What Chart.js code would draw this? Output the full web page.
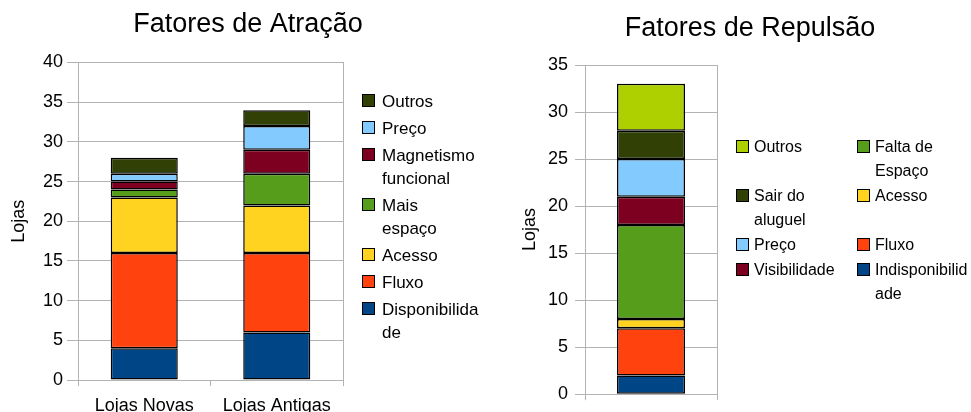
<!DOCTYPE html>
<html><head><meta charset="utf-8">
<script src="https://cdn.jsdelivr.net/npm/chart.js@4"></script>
<style>
html,body{margin:0;padding:0;width:971px;height:412px;overflow:hidden;background:#fff;font-family:"Liberation Sans",Arial,sans-serif;}
#c1{position:absolute;left:0;top:0;}
#c2{position:absolute;left:519px;top:0;}
.legend{position:absolute;font-size:17px;color:#000;line-height:23px;z-index:2;}
#lg1{left:362px;top:89.5px;}
#lg2{left:736px;top:135px;font-size:16px;display:grid;grid-template-columns:121px 121px;grid-auto-flow:column;grid-template-rows:repeat(4,auto);row-gap:1px;line-height:24px;}
.item{display:flex;align-items:flex-start;margin-bottom:4px;}
#lg2 .item{margin-bottom:0;}
.box{width:11px;height:11px;border:1.5px solid #000;margin-top:4.5px;margin-right:7px;flex:none;}
#lg2 .box{margin-top:5px;margin-right:5px;}
</style></head>
<body>
<canvas id="c1" width="496" height="412"></canvas>
<canvas id="c2" width="462" height="412"></canvas>
<div id="lg1" class="legend"></div>
<div id="lg2" class="legend"></div>
<script>
// ---- Fatores de Atração ----
const atrTitle = 'Fatores de Atração';
const atrCategories = ['Lojas Novas', 'Lojas Antigas'];
const atrSeries = ['Disponibilidade', 'Fluxo', 'Acesso', 'Mais espaço', 'Magnetismo funcional', 'Preço', 'Outros'];
const atrLegendText = ['Disponibilida\nde', 'Fluxo', 'Acesso', 'Mais\nespaço', 'Magnetismo\nfuncional', 'Preço', 'Outros'];
const atrDisponibilidade = [4, 6];
const atrFluxo = [12, 10];
const atrAcesso = [7, 6];
const atrMaisEspaco = [1, 4];
const atrMagnetismo = [1, 3];
const atrPreco = [1, 3];
const atrOutros = [2, 2];
const atrTicksMax = 40;

// ---- Fatores de Repulsão ----
const repTitle = 'Fatores de Repulsão';
const repCategories = [''];
const repSeries = ['Indisponibilidade', 'Fluxo', 'Acesso', 'Falta de Espaço', 'Visibilidade', 'Preço', 'Sair do aluguel', 'Outros'];
const repLegendText = ['Indisponibilid\nade', 'Fluxo', 'Acesso', 'Falta de\nEspaço', 'Visibilidade', 'Preço', 'Sair do\naluguel', 'Outros'];
const repIndisponibilidade = [2];
const repFluxo = [5];
const repAcesso = [1];
const repFaltaEspaco = [10];
const repVisibilidade = [3];
const repPreco = [4];
const repSairAluguel = [3];
const repOutros = [5];
const repTicksMax = 35;

const palette = ['#004586', '#ff420e', '#ffd320', '#579d1c', '#7e0021', '#83caff', '#314004', '#aecf00'];
const FONT = '"Liberation Sans", Arial, sans-serif';
const GRID = '#b3b3b3';

function makeDatasets(names, values) {
  return names.map((n, i) => ({
    label: n, data: values[i], backgroundColor: palette[i],
    borderColor: '#000', borderWidth: 1.5, borderSkipped: false, inflateAmount: 0
  }));
}

function makeOptions(cfg) {
  return {
    responsive: false, animation: false,
    layout: { padding: 0 },
    datasets: { bar: { categoryPercentage: 1, barPercentage: cfg.barPct } },
    plugins: {
      legend: { display: false }, tooltip: { enabled: false },
      title: { display: true, text: cfg.title, color: '#000',
        font: { family: FONT, size: 27, weight: 'normal', lineHeight: 1.2 },
        padding: { top: cfg.titleTop, bottom: cfg.titleBottom } }
    },
    scales: {
      x: { stacked: true, offset: true,
        grid: { offset: true, drawOnChartArea: false, drawTicks: true, tickLength: 6, color: GRID },
        border: { color: GRID },
        ticks: { color: '#000', font: { family: FONT, size: 18 }, padding: 9, maxRotation: 0, autoSkip: false },
        afterFit: s => { s.height = cfg.xH; } },
      y: { stacked: true, min: 0, max: cfg.max,
        ticks: { stepSize: 5, color: '#000', font: { family: FONT, size: 18 }, padding: cfg.tickPad },
        grid: { color: GRID, tickLength: cfg.tickLen },
        border: { color: GRID },
        title: { display: true, text: 'Lojas', color: '#000', font: { family: FONT, size: 18 }, padding: { top: cfg.ytPad, bottom: 0 } },
        afterFit: s => { s.width = cfg.yW; } },
      y2: { type: 'linear', position: 'right', display: true,
        ticks: { display: false }, grid: { display: false },
        border: { display: true, color: GRID },
        afterFit: s => { s.width = cfg.y2W; } }
    }
  };
}

const chart1 = new Chart(document.getElementById('c1'), {
  type: 'bar',
  data: { labels: atrCategories,
    datasets: makeDatasets(atrSeries, [atrDisponibilidade, atrFluxo, atrAcesso, atrMaisEspaco, atrMagnetismo, atrPreco, atrOutros]) },
  options: makeOptions({ title: atrTitle, max: atrTicksMax, barPct: 0.506, titleTop: 8, titleBottom: 22.1,
    xH: 32, yW: 78, y2W: 153, tickLen: 11, tickPad: 4, ytPad: 8 })
});

const chart2 = new Chart(document.getElementById('c2'), {
  type: 'bar',
  data: { labels: repCategories,
    datasets: makeDatasets(repSeries, [repIndisponibilidade, repFluxo, repAcesso, repFaltaEspaco, repVisibilidade, repPreco, repSairAluguel, repOutros]) },
  options: makeOptions({ title: repTitle, max: repTicksMax, barPct: 0.515, titleTop: 12, titleBottom: 20.6,
    xH: 6, yW: 66, y2W: 264, tickLen: 10, tickPad: 7, ytPad: 0 })
});

function buildLegend(el, chart, texts) {
  const ds = chart.data.datasets;
  for (let i = ds.length - 1; i >= 0; i--) {
    const item = document.createElement('div'); item.className = 'item';
    const box = document.createElement('div'); box.className = 'box'; box.style.background = ds[i].backgroundColor;
    const t = document.createElement('div'); t.style.whiteSpace = 'pre'; t.textContent = texts[i];
    item.appendChild(box); item.appendChild(t); el.appendChild(item);
  }
}
buildLegend(document.getElementById('lg1'), chart1, atrLegendText);
buildLegend(document.getElementById('lg2'), chart2, repLegendText);
</script>
</body></html>
